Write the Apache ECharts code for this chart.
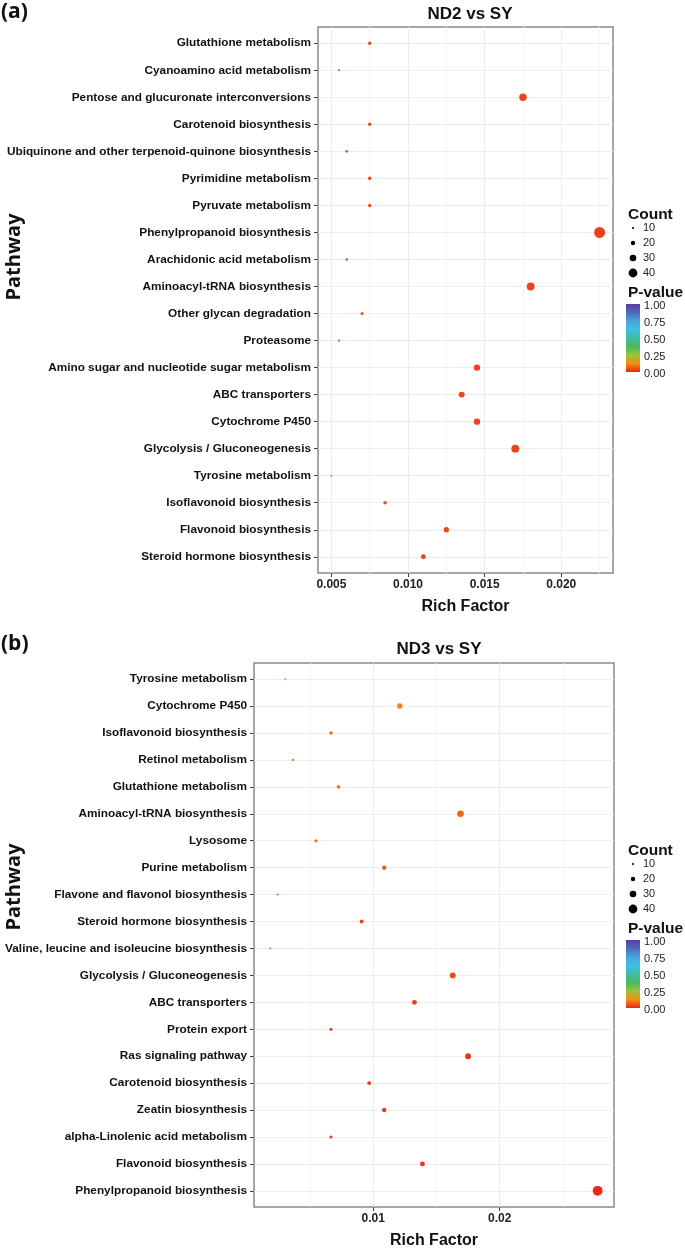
<!DOCTYPE html>
<html><head><meta charset="utf-8">
<script src="https://cdn.jsdelivr.net/npm/echarts@6/dist/echarts.min.js"></script>
<style>html,body{margin:0;padding:0;background:#fff}#c{width:685px;height:1248px}</style>
</head><body><div id="c"></div>
<script>
// ---------- data ----------
const catsA = ['Glutathione metabolism','Cyanoamino acid metabolism','Pentose and glucuronate interconversions','Carotenoid biosynthesis','Ubiquinone and other terpenoid-quinone biosynthesis','Pyrimidine metabolism','Pyruvate metabolism','Phenylpropanoid biosynthesis','Arachidonic acid metabolism','Aminoacyl-tRNA biosynthesis','Other glycan degradation','Proteasome','Amino sugar and nucleotide sugar metabolism','ABC transporters','Cytochrome P450','Glycolysis / Gluconeogenesis','Tyrosine metabolism','Isoflavonoid biosynthesis','Flavonoid biosynthesis','Steroid hormone biosynthesis'];
const richA  = [0.0075,0.0055,0.0175,0.0075,0.0060,0.0075,0.0075,0.0225,0.0060,0.0180,0.0070,0.0055,0.0145,0.0135,0.0145,0.0170,0.0050,0.0085,0.0125,0.0110];
const countA = [16,10,34,16,12,16,16,50,12,36,14,10,29,27,29,36,8,16,24,22];
const pA     = [0.045,0.06,0.035,0.045,0.05,0.045,0.045,0.03,0.05,0.035,0.045,0.06,0.035,0.035,0.035,0.035,0.06,0.045,0.035,0.035];

const catsB = ['Tyrosine metabolism','Cytochrome P450','Isoflavonoid biosynthesis','Retinol metabolism','Glutathione metabolism','Aminoacyl-tRNA biosynthesis','Lysosome','Purine metabolism','Flavone and flavonol biosynthesis','Steroid hormone biosynthesis','Valine, leucine and isoleucine biosynthesis','Glycolysis / Gluconeogenesis','ABC transporters','Protein export','Ras signaling pathway','Carotenoid biosynthesis','Zeatin biosynthesis','alpha-Linolenic acid metabolism','Flavonoid biosynthesis','Phenylpropanoid biosynthesis'];
const richB  = [0.00305,0.0121,0.00666,0.00366,0.00726,0.0169,0.00548,0.01087,0.00245,0.00908,0.00187,0.01629,0.01326,0.00666,0.0175,0.00968,0.01087,0.00666,0.01389,0.02774];
const countB = [9,25,16,10,16,30,14,20,9,18,8,27,22,14,27,18,20,14,22,45];
const pB     = [0.22,0.11,0.085,0.085,0.085,0.075,0.075,0.06,0.06,0.04,0.065,0.045,0.03,0.03,0.02,0.025,0.025,0.025,0.02,0.005];

const xTicksA = [0.005,0.010,0.015,0.020];
const xMinorA = [0.0075,0.0125,0.0175,0.0225];
const xTicksB = [0.01,0.02];
const xMinorB = [0.005,0.015,0.025];
const countBreaks = [10,20,30,40];
const pTicks = ['1.00','0.75','0.50','0.25','0.00'];
const pColors = ['#e8261c','#f2900f','#98c43a','#4cb85c','#40bcaa','#40c0e0','#4aa4dc','#4a6cbc','#5c3c9c'];

// ---------- helpers ----------
const sizeOf = c => 0.22 * c;
const FONT = 'Liberation Sans';
function extent(arr){ const mn=Math.min(...arr), mx=Math.max(...arr), e=(mx-mn)*0.05; return [mn-e, mx+e]; }
const exA = extent(richA), exB = extent(richB);
const idx = n => Array.from({length:n},(_,i)=>i);

function yAxisFor(g, cats){
  return {type:'value', gridIndex:g, inverse:true, min:-0.6, max:cats.length-0.4,
    axisLine:{show:false, onZero:false},
    axisTick:{show:true, length:4, customValues:idx(cats.length), lineStyle:{color:'#444'}},
    axisLabel:{customValues:idx(cats.length), margin:7, fontFamily:FONT, fontWeight:'bold', fontSize:11.8, color:'#111',
      formatter: v => cats[Math.round(v)]},
    splitLine:{show:true, lineStyle:{color:'#ececec', width:1}}};
}
function xMain(g, ex, ticks, dec){
  return {type:'value', gridIndex:g, min:ex[0], max:ex[1],
    name:'Rich Factor', nameLocation:'middle', nameGap:26,
    nameTextStyle:{fontFamily:FONT, fontWeight:'bold', fontSize:16, color:'#111'},
    axisLine:{show:false, onZero:false},
    axisTick:{show:true, length:4, customValues:ticks, lineStyle:{color:'#444'}},
    axisLabel:{customValues:ticks, margin:6, fontFamily:FONT, fontWeight:'bold', fontSize:12, color:'#222',
      formatter: v => v.toFixed(dec)},
    splitLine:{show:true, lineStyle:{color:'#ececec', width:1}}};
}
function xMinor(g, ex, ticks){
  return {type:'value', gridIndex:g, min:ex[0], max:ex[1], position:'top',
    axisLine:{show:false, onZero:false}, axisTick:{show:false, customValues:ticks}, axisLabel:{show:false, customValues:ticks},
    splitLine:{show:true, lineStyle:{color:'#f5f5f5', width:1}}};
}
function seriesFor(xi, yi, rich, count, p){
  return {type:'scatter', xAxisIndex:xi, yAxisIndex:yi,
    data: rich.map((r,i)=>[r, i, count[i], p[i]]),
    symbolSize: d => sizeOf(d[2]),
    itemStyle:{opacity:1}, emphasis:{disabled:true}, z:5};
}

// legends as graphics
function legendGraphics(top){
  const els = [];
  const x0 = 628;
  els.push({type:'text', left:x0, top:top, style:{text:'Count', font:'bold 15.5px "Liberation Sans"', fill:'#111'}});
  countBreaks.forEach((c,i)=>{
    const cy = top + 21 + i*15;
    els.push({type:'circle', shape:{cx:633, cy:cy, r:sizeOf(c)/2}, style:{fill:'#000'}});
    els.push({type:'text', x:643, y:cy, style:{text:String(c), font:'11px "Liberation Sans"', fill:'#222', verticalAlign:'middle'}});
  });
  const pt = top + 80;
  els.push({type:'text', left:x0, top:pt-2, style:{text:'P-value', font:'bold 15.5px "Liberation Sans"', fill:'#111'}});
  const barTop = pt + 17, barH = 68;
  els.push({type:'rect', shape:{x:626, y:barTop, width:14, height:barH},
    style:{fill:new echarts.graphic.LinearGradient(0,0,0,1, pColors.slice().reverse().map((c,i,a)=>({offset:i/(a.length-1), color:c})))}});
  pTicks.forEach((t,i)=>{
    els.push({type:'text', x:644, y:barTop + 2 + i*(barH/4), style:{text:t, font:'11px "Liberation Sans"', fill:'#222', verticalAlign:'middle'}});
  });
  return els;
}

const chart = echarts.init(document.getElementById('c'), null, {renderer:'canvas'});
chart.setOption({
  animation:false,
  backgroundColor:'#fff',
  title:[
    {text:'ND2 vs SY', left:465, top:1, textAlign:'center', textStyle:{fontFamily:FONT, fontWeight:'bold', fontSize:17, color:'#111'}},
    {text:'ND3 vs SY', left:434, top:636, textAlign:'center', textStyle:{fontFamily:FONT, fontWeight:'bold', fontSize:17, color:'#111'}}
  ],
  grid:[
    {left:318, top:27, width:295, height:546, show:true, borderColor:'#8a8a8a', borderWidth:1.5, backgroundColor:'#fff', outerBoundsMode:'none', containLabel:false},
    {left:254, top:663, width:360, height:544, show:true, borderColor:'#8a8a8a', borderWidth:1.5, backgroundColor:'#fff', outerBoundsMode:'none', containLabel:false}
  ],
  xAxis:[ xMain(0, exA, xTicksA, 3), xMinor(0, exA, xMinorA), xMain(1, exB, xTicksB, 2), xMinor(1, exB, xMinorB) ],
  yAxis:[ yAxisFor(0, catsA), yAxisFor(1, catsB) ],
  visualMap:[{type:'continuous', show:false, min:0, max:1, dimension:3, seriesIndex:[0,1], inRange:{color:pColors}}],
  series:[ seriesFor(0,0,richA,countA,pA), seriesFor(2,1,richB,countB,pB) ],
  graphic:[
    {type:'text', left:1, top:2, style:{text:'(a)', font:'bold 21px "Open Sans"', fill:'#111'}},
    {type:'text', left:1, top:634, style:{text:'(b)', font:'bold 21px "Open Sans"', fill:'#111'}},
    {type:'text', x:14, y:257, rotation:Math.PI/2, style:{text:'Pathway', font:'bold 20px "Open Sans"', fill:'#111', align:'center', verticalAlign:'middle'}},
    {type:'text', x:14, y:887, rotation:Math.PI/2, style:{text:'Pathway', font:'bold 20px "Open Sans"', fill:'#111', align:'center', verticalAlign:'middle'}},
    ...legendGraphics(207),
    ...legendGraphics(843)
  ]
});
</script></body></html>
